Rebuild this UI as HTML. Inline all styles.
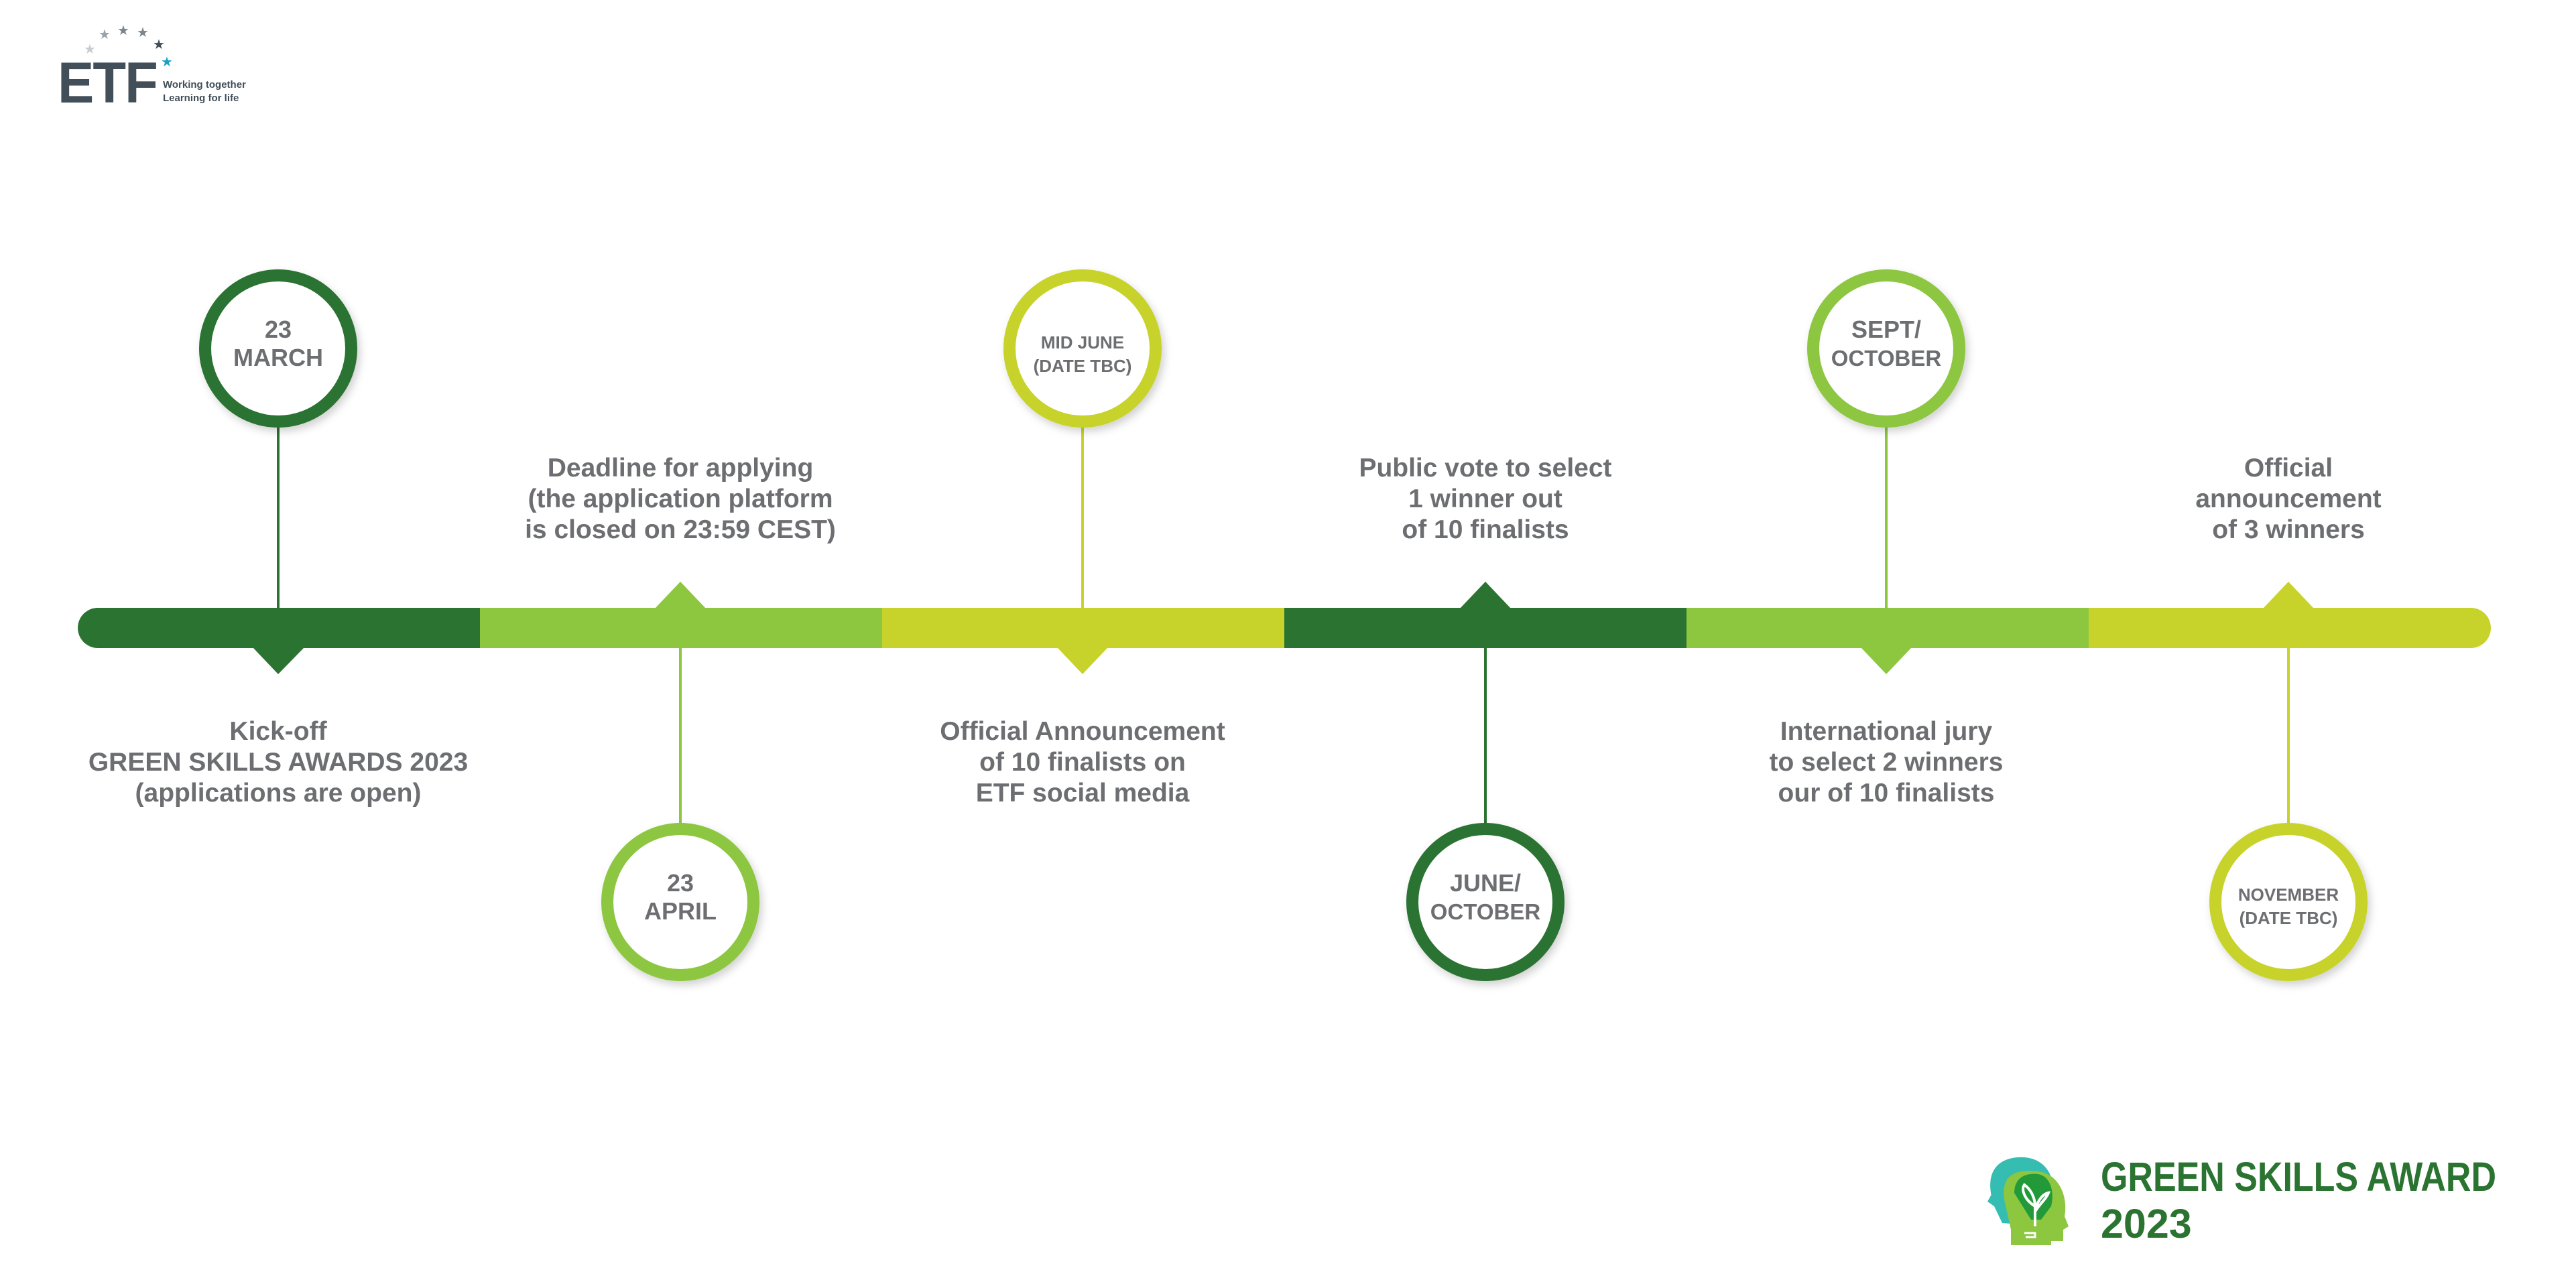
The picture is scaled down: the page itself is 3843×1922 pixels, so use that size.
<!DOCTYPE html>
<html><head><meta charset="utf-8"><style>
html,body{margin:0;padding:0;background:#fff;}
svg{display:block;}
.t{font-family:"Liberation Sans",sans-serif;font-weight:bold;fill:#6d6e71;text-anchor:middle;}
</style></head><body>
<svg width="3843" height="1922" viewBox="0 0 3843 1922" xmlns="http://www.w3.org/2000/svg">
<defs>
<filter id="sh" x="-20%" y="-20%" width="140%" height="140%"><feDropShadow dx="4" dy="6" stdDeviation="6" flood-color="#000" flood-opacity="0.18"/></filter>
</defs>
<g fill="#424f59">
<text x="86" y="153" style="font-family:'Liberation Sans',sans-serif;font-weight:bold;font-size:86px;letter-spacing:-2px" textLength="148" lengthAdjust="spacingAndGlyphs">ETF</text>
<text x="243" y="131" style="font-family:'Liberation Sans',sans-serif;font-size:15px;font-weight:bold">Working together</text>
<text x="243" y="151" style="font-family:'Liberation Sans',sans-serif;font-size:15px;font-weight:bold">Learning for life</text>
</g>
<g font-family="DejaVu Sans" font-size="20" text-anchor="middle">
<text x="134" y="80" fill="#c9ccd0">★</text>
<text x="156" y="58" fill="#9aa2aa">★</text>
<text x="184" y="52" fill="#7b858e">★</text>
<text x="213" y="55" fill="#7b858e">★</text>
<text x="237" y="73" fill="#424f59">★</text>
<text x="249" y="99" fill="#1aa0c8">★</text>
</g>

<path d="M146 907 H716 V967 H146 A30 30 0 0 1 146 907 Z" fill="#2a7331"/>
<rect x="716" y="907" width="601" height="60" fill="#8dc63f"/>
<rect x="1316" y="907" width="601" height="60" fill="#c7d32a"/>
<rect x="1916" y="907" width="601" height="60" fill="#2a7331"/>
<rect x="2516" y="907" width="601" height="60" fill="#8dc63f"/>
<path d="M3116 907 H3686 A30 30 0 0 1 3686 967 H3116 Z" fill="#c7d32a"/>

<polygon points="377,966 454,966 415,1006" fill="#2a7331"/>
<polygon points="977,908 1053,908 1015,868" fill="#8dc63f"/>
<polygon points="1577,966 1653,966 1615,1006" fill="#c7d32a"/>
<polygon points="2178,908 2254,908 2216,868" fill="#2a7331"/>
<polygon points="2776,966 2852,966 2814,1006" fill="#8dc63f"/>
<polygon points="3376,908 3452,908 3414,868" fill="#c7d32a"/>

<rect x="413" y="630" width="4" height="278" fill="#2a7331"/>
<rect x="1013" y="966" width="4" height="270" fill="#8dc63f"/>
<rect x="1613" y="630" width="4" height="278" fill="#c7d32a"/>
<rect x="2214" y="966" width="4" height="270" fill="#2a7331"/>
<rect x="2812" y="630" width="4" height="278" fill="#8dc63f"/>
<rect x="3412" y="966" width="4" height="270" fill="#c7d32a"/>

<g filter="url(#sh)" fill="#fff" stroke-width="18">
<circle cx="415" cy="520" r="109" stroke="#2a7331"/>
<circle cx="1015" cy="1346" r="109" stroke="#8dc63f"/>
<circle cx="1615" cy="520" r="109" stroke="#c7d32a"/>
<circle cx="2216" cy="1346" r="109" stroke="#2a7331"/>
<circle cx="2814" cy="520" r="109" stroke="#8dc63f"/>
<circle cx="3414" cy="1346" r="109" stroke="#c7d32a"/>
</g>

<g class="t" font-size="36">
<text x="415" y="504">23</text><text x="415" y="546">MARCH</text>
<text x="1015" y="1330">23</text><text x="1015" y="1372">APRIL</text>
<text x="2216" y="1330">JUNE/</text><text x="2216" y="1372" font-size="33">OCTOBER</text>
<text x="2814" y="504">SEPT/</text><text x="2814" y="546" font-size="33">OCTOBER</text>
</g>
<g class="t" font-size="26">
<text x="1615" y="520">MID JUNE</text><text x="1615" y="555">(DATE TBC)</text>
<text x="3414" y="1344">NOVEMBER</text><text x="3414" y="1379">(DATE TBC)</text>
</g>

<g class="t" font-size="39">
<text x="415" y="1104">Kick-off</text>
<text x="415" y="1150">GREEN SKILLS AWARDS 2023</text>
<text x="415" y="1196">(applications are open)</text>

<text x="1015" y="711">Deadline for applying</text>
<text x="1015" y="757">(the application platform</text>
<text x="1015" y="803">is closed on 23:59 CEST)</text>

<text x="1615" y="1104">Official Announcement</text>
<text x="1615" y="1150">of 10 finalists on</text>
<text x="1615" y="1196">ETF social media</text>

<text x="2216" y="711">Public vote to select</text>
<text x="2216" y="757">1 winner out</text>
<text x="2216" y="803">of 10 finalists</text>

<text x="2814" y="1104">International jury</text>
<text x="2814" y="1150">to select 2 winners</text>
<text x="2814" y="1196">our of 10 finalists</text>

<text x="3414" y="711">Official</text>
<text x="3414" y="757">announcement</text>
<text x="3414" y="803">of 3 winners</text>
</g>

<g>
<path d="M2975 1800 C2955 1740 2990 1725 3020 1727 C3060 1730 3070 1770 3060 1800 L3040 1815 L3000 1826 L2987 1825 Z" fill="#35bdb2"/>
<path d="M2975 1800 L2965 1793 L2978 1770 Z" fill="#35bdb2"/>
<path d="M2990 1790 C2985 1750 3010 1745 3040 1748 C3075 1752 3085 1790 3080 1815 L3086 1830 L3078 1835 L3078 1852 L3060 1852 L3060 1858 L3000 1858 L3000 1835 Z" fill="#8dc63f"/>
<path d="M3005 1780 C3005 1755 3025 1750 3040 1752 C3060 1755 3065 1780 3060 1800 L3045 1820 L3030 1820 Z" fill="#239a3a"/>
<path d="M3036 1830 L3036 1800 M3036 1800 C3020 1790 3015 1775 3020 1768 C3030 1775 3036 1788 3036 1800 M3036 1808 C3044 1795 3052 1790 3056 1780 C3046 1782 3038 1795 3036 1808" stroke="#fff" stroke-width="4" fill="none"/>
<path d="M3020 1840 h16 v6 h-14" stroke="#fff" stroke-width="3" fill="none"/>
</g>
<g style="font-family:'Liberation Sans',sans-serif;font-weight:bold" fill="#2a7331" font-size="61">
<text x="3134" y="1777" textLength="590" lengthAdjust="spacingAndGlyphs">GREEN SKILLS AWARD</text>
<text x="3134" y="1847">2023</text>
</g>
</svg>
</body></html>
